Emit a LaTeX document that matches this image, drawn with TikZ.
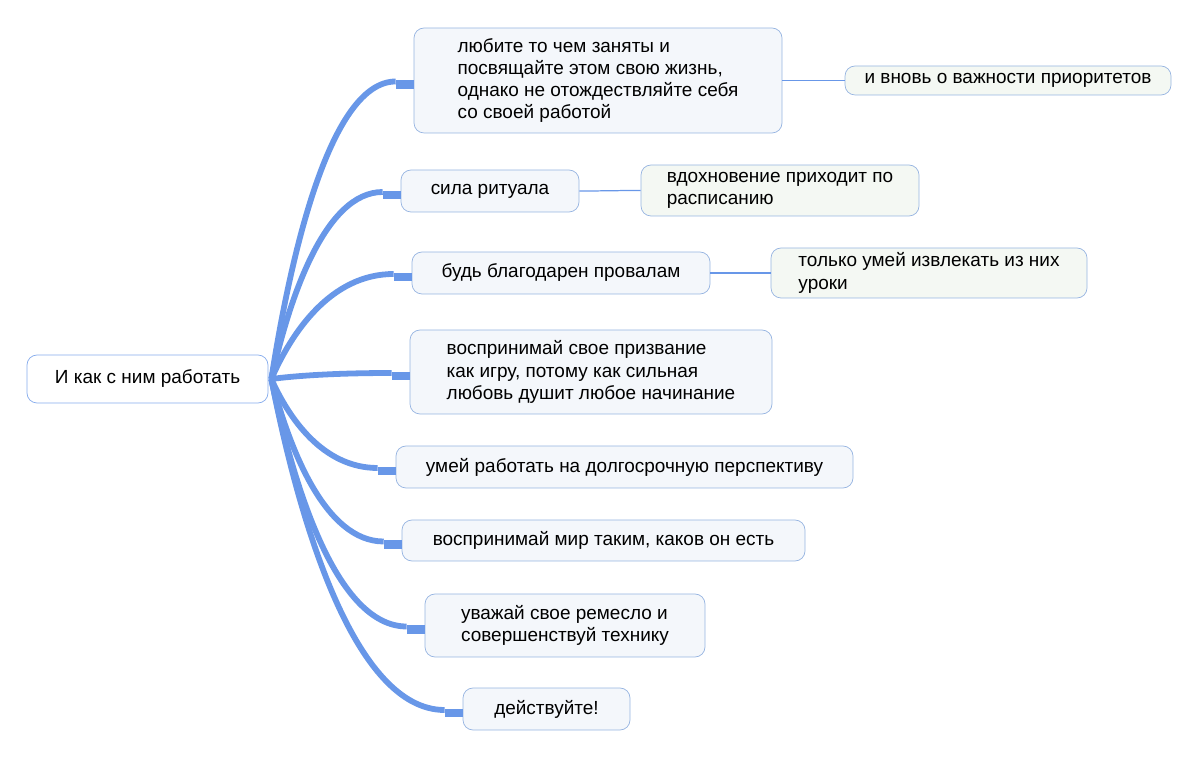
\documentclass[tikz,border=0pt]{standalone}
\usepackage{fontspec}
\setmainfont{Liberation Sans}
\usetikzlibrary{calc}

\definecolor{branch}{RGB}{104,151,232}
\definecolor{boxline}{RGB}{150,180,225}
\definecolor{topicfill}{RGB}{244,247,251}
\definecolor{notefill}{RGB}{244,248,243}

\tikzset{
  topic/.style 2 args={draw=boxline, fill=topicfill, rounded corners=0.2cm,
    minimum width=#1*0.02cm, minimum height=#2*0.02cm, align=left,
    inner sep=0pt, font=\fontsize{10.8}{12.6}\selectfont},
  note/.style 2 args={topic={#1}{#2}, fill=notefill},
  branchline/.style={draw=branch, line width=3.3pt},
  stub/.style={draw=branch, line width=4.6pt},
  twig/.style={draw=branch, line width=0.7pt}
}

\begin{document}
\begin{tikzpicture}[x=0.02cm, y=-0.02cm]
\useasboundingbox (0,0) rectangle (1200,759);

\node[topic={241}{48}, fill=white, draw=branch!80] (root) at (147.5,379) {И как с ним работать};

\node[topic={368}{105}] (love) at (598,80.5) {любите то чем заняты и\\посвящайте этом свою жизнь,\\однако не отождествляйте себя\\со своей работой};
\node[topic={178}{42}] (ritual) at (490,191) {сила ритуала};
\node[topic={298}{42}] (fail) at (561,273) {будь благодарен провалам};
\node[topic={362}{84}] (game) at (591,372) {воспринимай свое призвание\\как игру, потому как сильная\\любовь душит любое начинание};
\node[topic={457}{42}] (long) at (624.5,467) {умей работать на долгосрочную перспективу};
\node[topic={403}{41}] (world) at (603.5,540.5) {воспринимай мир таким, каков он есть};
\node[topic={280}{63}] (craft) at (565,625.5) {уважай свое ремесло и\\совершенствуй технику};
\node[topic={167}{42}] (act) at (546.5,709) {действуйте!};

\node[note={326}{29}] (prio) at (1008,80.5) {и вновь о важности приоритетов};
\node[note={278}{51}] (sched) at (780,190.5) {вдохновение приходит по\\расписанию};
\node[note={316}{50}] (lesson) at (929,273) {только умей извлекать из них\\уроки};

% main branches
\foreach \t in {love,ritual,fail,game,long,world,craft,act}{
  \draw[branchline] let \p1=($(root.east)+(3,0)$), \p2=($(\t.west)+(-18,1)$) in
    (\p1) .. controls ({\x1+0.16*(\x2-\x1)}, {0.57*\y1+0.43*\y2}) and ({\x1+0.48*(\x2-\x1)}, \y2) .. (\p2);
  \draw[stub] ($(\t.west)+(-18,4)$) -- ($(\t.west)+(0,4)$);
}

% sub topics
\draw[twig] (love.east) to[out=0, in=180] (prio.west);
\draw[twig] (ritual.east) to[out=0, in=180] (sched.west);
\draw[twig] (fail.east) to[out=0, in=180] (lesson.west);
\end{tikzpicture}
\end{document}
